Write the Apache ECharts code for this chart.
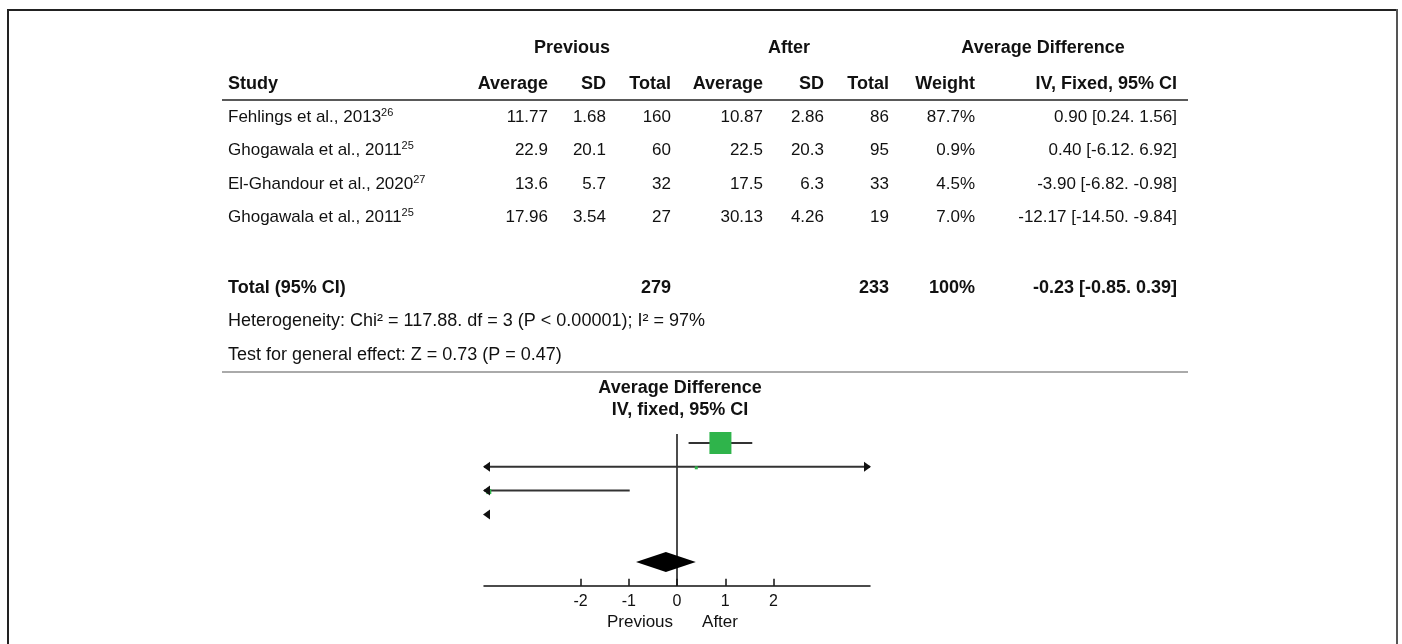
<!DOCTYPE html>
<html><head><meta charset="utf-8">
<script src="https://cdn.jsdelivr.net/npm/echarts@6/dist/echarts.min.js"></script>
<style>html,body{margin:0;padding:0;background:#fff}#c{width:1402px;height:644px}</style>
</head><body><div id="c"></div>
<script>
// ---------- data ----------
const studies = ['Fehlings et al., 2013', 'Ghogawala et al., 2011', 'El-Ghandour et al., 2020', 'Ghogawala et al., 2011'];
const refs = ['26', '25', '27', '25'];
const prevMean = ['11.77', '22.9', '13.6', '17.96'];
const prevSD = ['1.68', '20.1', '5.7', '3.54'];
const prevN = [160, 60, 32, 27];
const afterMean = ['10.87', '22.5', '17.5', '30.13'];
const afterSD = ['2.86', '20.3', '6.3', '4.26'];
const afterN = [86, 95, 33, 19];
const weights = [87.7, 0.9, 4.5, 7.0];
const md = [0.90, 0.40, -3.90, -12.17];
const ciLow = [0.24, -6.12, -6.82, -14.50];
const ciHigh = [1.56, 6.92, -0.98, -9.84];
const totalPrevN = 279;
const totalAfterN = 233;
const totalWeight = '100%';
const totalMD = -0.23, totalLow = -0.85, totalHigh = 0.39;
const xTicks = [-2, -1, 0, 1, 2];
const xRange = [-4, 4];
const heterogeneityText = 'Heterogeneity: Chi² = 117.88. df = 3 (P < 0.00001); I² = 97%';
const effectText = 'Test for general effect: Z = 0.73 (P = 0.47)';
const groupHeaders = ['Previous', 'After', 'Average Difference'];
const colHeaders = ['Study', 'Average', 'SD', 'Total', 'Average', 'SD', 'Total', 'Weight', 'IV, Fixed, 95% CI'];
const plotTitle = ['Average Difference', 'IV, fixed, 95% CI'];
const sideLabels = ['Previous', 'After'];

// ---------- layout ----------
const FONT = '"Liberation Sans", Arial, Helvetica, sans-serif';
const REG = 17, BOLD = 18;
const colRight = [null, 548, 606, 671, 763, 824, 889, 975, 1177];
const studyX = 228;
const rowY = [117, 150, 184, 217];
const headerY = 84, groupY = 48, totalY = 288, hetY = 321, effY = 355;
const fmtCI = (m, l, h) => m.toFixed(2) + ' [' + l.toFixed(2) + '. ' + h.toFixed(2) + ']';

function txt(x, y, text, opt) {
  opt = opt || {};
  return {
    type: 'text', x: x, y: y, silent: true,
    style: {
      text: text, fill: '#111', fontFamily: FONT,
      fontSize: opt.size || (opt.bold ? BOLD : REG), fontWeight: opt.bold ? 'bold' : 'normal',
      align: opt.align || 'right', verticalAlign: 'middle'
    }
  };
}

const g = [];
// frame
g.push({ type: 'line', silent: true, shape: { x1: 7, y1: 10, x2: 1397, y2: 10 }, style: { stroke: '#222', lineWidth: 2 } });
g.push({ type: 'line', silent: true, shape: { x1: 8, y1: 9, x2: 8, y2: 700 }, style: { stroke: '#222', lineWidth: 2 } });
g.push({ type: 'line', silent: true, shape: { x1: 1397, y1: 9, x2: 1397, y2: 700 }, style: { stroke: '#555', lineWidth: 2 } });

// group headers
g.push(txt(572, groupY, groupHeaders[0], { bold: true, align: 'center' }));
g.push(txt(789, groupY, groupHeaders[1], { bold: true, align: 'center' }));
g.push(txt(1043, groupY, groupHeaders[2], { bold: true, align: 'center' }));
// column headers
g.push(txt(studyX, headerY, colHeaders[0], { bold: true, align: 'left' }));
for (let c = 1; c < colHeaders.length; c++) g.push(txt(colRight[c], headerY, colHeaders[c], { bold: true }));
// header rule
g.push({ type: 'line', silent: true, shape: { x1: 222, y1: 100, x2: 1188, y2: 100 }, style: { stroke: '#222', lineWidth: 1.5 } });

// study rows
for (let i = 0; i < studies.length; i++) {
  const y = rowY[i];
  g.push({
    type: 'text', x: studyX, y: y, silent: true,
    style: {
      text: '{n|' + studies[i] + '}{s|' + refs[i] + '}',
      align: 'left', verticalAlign: 'middle',
      rich: {
        n: { fontSize: REG, fontFamily: FONT, fill: '#111', lineHeight: 20 },
        s: { fontSize: 11, fontFamily: FONT, fill: '#111', lineHeight: 14, verticalAlign: 'top' }
      }
    }
  });
  const vals = [prevMean[i], prevSD[i], String(prevN[i]), afterMean[i], afterSD[i], String(afterN[i]),
    weights[i].toFixed(1) + '%', fmtCI(md[i], ciLow[i], ciHigh[i])];
  for (let c = 0; c < vals.length; c++) g.push(txt(colRight[c + 1], y, vals[c]));
}
// total row
g.push(txt(studyX, totalY, 'Total (95% CI)', { bold: true, align: 'left' }));
g.push(txt(colRight[3], totalY, String(totalPrevN), { bold: true }));
g.push(txt(colRight[6], totalY, String(totalAfterN), { bold: true }));
g.push(txt(colRight[7], totalY, totalWeight, { bold: true }));
g.push(txt(colRight[8], totalY, fmtCI(totalMD, totalLow, totalHigh), { bold: true }));
g.push(txt(studyX, hetY, heterogeneityText, { align: 'left', size: 18 }));
g.push(txt(studyX, effY, effectText, { align: 'left', size: 18 }));
// grey separator
g.push({ type: 'line', silent: true, shape: { x1: 222, y1: 372, x2: 1188, y2: 372 }, style: { stroke: '#aaa', lineWidth: 2 } });

// plot titles
g.push(txt(680, 388, plotTitle[0], { bold: true, align: 'center' }));
g.push(txt(680, 410, plotTitle[1], { bold: true, align: 'center' }));
g.push(txt(640, 622, sideLabels[0], { align: 'center' }));
g.push(txt(720, 622, sideLabels[1], { align: 'center' }));

// ---------- forest data ----------
const forestData = studies.map((s, i) => [i + 1, md[i], ciLow[i], ciHigh[i], weights[i]]);
const diamondData = [[6, totalMD, totalLow, totalHigh]];

function renderStudy(params, api) {
  const row = api.value(0), m = api.value(1), lo = api.value(2), hi = api.value(3), w = api.value(4);
  const xmin = xRange[0], xmax = xRange[1];
  const y = api.coord([0, row])[1];
  const ch = [];
  const loC = Math.max(lo, xmin), hiC = Math.min(hi, xmax);
  if (hiC > loC) {
    ch.push({ type: 'line', shape: { x1: api.coord([loC, row])[0], y1: y, x2: api.coord([hiC, row])[0], y2: y },
      style: { stroke: '#333', lineWidth: 2 } });
  }
  if (m >= xmin && m <= xmax) {
    const s = Math.max(3, 22 * Math.sqrt(w / 87.7));
    const cx = api.coord([m, row])[0];
    ch.push({ type: 'rect', shape: { x: cx - s / 2, y: y - s / 2 + (s < 8 ? 1 : 0), width: s, height: s },
      style: { fill: '#2fb44b' } });
  }
  if (lo < xmin) {
    const ax = api.coord([xmin, row])[0];
    ch.push({ type: 'polygon', shape: { points: [[ax - 1, y], [ax + 6, y - 5], [ax + 6, y + 5]] }, style: { fill: '#111' } });
  }
  if (hi > xmax) {
    const ax = api.coord([xmax, row])[0];
    ch.push({ type: 'polygon', shape: { points: [[ax + 1, y], [ax - 6, y - 5], [ax - 6, y + 5]] }, style: { fill: '#111' } });
  }
  return { type: 'group', children: ch };
}
function renderDiamond(params, api) {
  const row = api.value(0);
  const c = api.coord([api.value(1), row]);
  const l = api.coord([api.value(2), row]);
  const r = api.coord([api.value(3), row]);
  return { type: 'polygon', shape: { points: [[l[0], c[1]], [c[0], c[1] - 10], [r[0], c[1]], [c[0], c[1] + 10]] },
    style: { fill: '#000' } };
}

const chart = echarts.init(document.getElementById('c'), null, { renderer: 'canvas' });
chart.setOption({
  animation: false,
  backgroundColor: '#fff',
  grid: { left: 484, top: 419.2, width: 386, height: 166.6, containLabel: false },
  xAxis: {
    type: 'value', min: xRange[0], max: xRange[1], interval: 1, position: 'bottom',
    splitLine: { show: false },
    axisLine: { show: true, onZero: false, lineStyle: { color: '#111', width: 1.5 } },
    axisTick: { show: true, inside: true, length: 7, customValues: xTicks, lineStyle: { color: '#111', width: 1.5 } },
    axisLabel: { show: true, customValues: xTicks, fontSize: 16, color: '#111', fontFamily: FONT, margin: 8 }
  },
  yAxis: { type: 'value', min: 0, max: 7, inverse: true, show: false },
  graphic: g,
  series: [
    { type: 'line', data: [[0, 0.62], [0, 7]], symbol: 'none', silent: true,
      lineStyle: { color: '#111', width: 1.5 }, z: 1 },
    { type: 'custom', data: forestData, renderItem: renderStudy, silent: true, z: 3 },
    { type: 'custom', data: diamondData, renderItem: renderDiamond, silent: true, z: 4 }
  ]
});
</script></body></html>
